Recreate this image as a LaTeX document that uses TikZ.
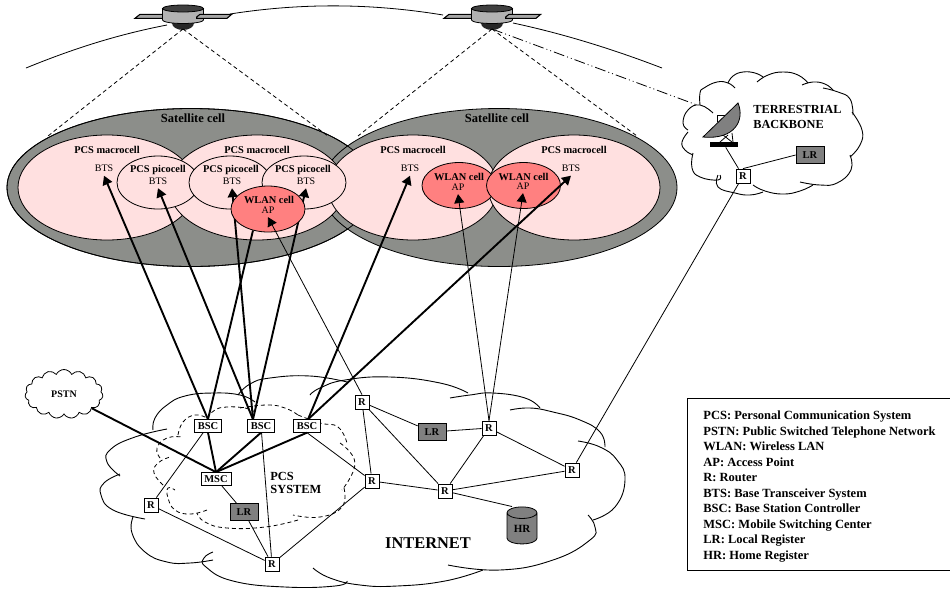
\documentclass[tikz,border=0pt]{standalone}
\usepackage{fontspec}
\setmainfont{Liberation Serif}
\usetikzlibrary{arrows.meta,shapes.geometric,shapes.symbols}
\definecolor{cellgray}{RGB}{140,142,138}
\definecolor{regray}{RGB}{128,128,128}
\definecolor{macropink}{RGB}{255,224,224}
\definecolor{wlanred}{RGB}{255,128,128}
\newcommand{\fs}[1]{\fontsize{#1}{#1}\selectfont}
\def\cloudarc[#1]#2{\draw[#1] plot[smooth,tension=0.8] coordinates {#2};}
\def\satellite(#1,#2)(#3){
	\begin{scope}[shift={(#1,#2)}]
		\draw[line width=1.1,fill=black!35] (-48,1.3) -- (-43,-2.7) -- (-20,-2.7) -- (-20,1.3) -- cycle;
		\fill[black!85] (-11,6) arc (180:0:11 and 7) -- cycle;
		\draw[fill=black!30] (-20.5,-8.5) -- (-20.5,3) arc (180:0:20.5 and 3.5) -- (20.5,-8.5) -- cycle;
		\draw[fill=black!75] (0,-8.5) ellipse (20.5 and 3.5);
		\draw[line width=1.1,fill=black!35] (13.7,0) -- (17,-2.7) -- (48.7,-2.7) -- (44,1.3) -- (13.7,1.3) -- cycle;
		\coordinate (#3) at (0,12);
	\end{scope}
}
\tikzset{
	boxnode/.style={draw, fill=white, inner sep=0, font=\bfseries\fs{10.5}},
	bsnode/.style={boxnode, minimum width=27, minimum height=12.5},
	routernode/.style={boxnode, minimum size=14},
	lrnode/.style={boxnode, fill=regray, minimum width=28, minimum height=17},
	boldtext/.style={font=\bfseries\fs{10.4}, inner sep=0},
	plaintext/.style={font=\fs{10}, inner sep=3.4},
	macrocell/.style={draw, ellipse, fill=macropink, minimum width=172, minimum height=105},
	picocell/.style={draw, ellipse, fill=macropink, minimum width=82, minimum height=53},
	wlancell/.style={draw, ellipse, fill=wlanred, minimum width=74, minimum height=46},
	satcell/.style={draw, ellipse, fill=cellgray, minimum height=158},
	heavyline/.style={line width=1.9},
	heavyarrow/.style={heavyline, -{Triangle[length=9,width=10]}},
	lightarrow/.style={-{Triangle[length=9,width=10]}},
	cloudline/.style={line width=0.9},
	cloudcut/.style={line width=0.8, dash pattern=on 4 off 3}
}
\begin{document}
\begin{tikzpicture}[x=1pt,y=-1pt,line width=0.8]
	\useasboundingbox (0,0) rectangle (950,590);
	%%%%% satellites and orbit %%%%%
	\draw (26,68) .. controls (70,50) and (115,35) .. (167,25);
	\draw (230,14) .. controls (300,3) and (370,3) .. (443,15);
	\draw (513,23) .. controls (560,33) and (610,48) .. (662,68);
	\satellite(183,17)(sata)
	\satellite(492,17)(satb)
	%%%%% cells %%%%%
	\node[satcell, minimum width=368] (satcella) at (191,187.5) {};
	\node[satcell, minimum width=356] (satcellb) at (499,187.5) {};
	\node[satcell, fill=none, minimum width=368] at (191,187.5) {};
	\node[boldtext, font=\bfseries\fs{12.5}] (sattexta) at (193,118) {Satellite cell};
	\node[boldtext, font=\bfseries\fs{12.5}] (sattextb) at (497,118) {Satellite cell};
	\coordinate (beama) at (48,136);
	\coordinate (beamb) at (328,136);
	\coordinate (beamc) at (358,136);
	\coordinate (beamd) at (637,136);
	\draw[dash pattern=on 4 off 3] (sata) -- (beama);
	\draw[dash pattern=on 4 off 3] (sata) -- (beamb);
	\draw[dash pattern=on 4 off 3] (satb) -- (beamc);
	\draw[dash pattern=on 4 off 3] (satb) -- (beamd);
	\node[macrocell, minimum width=178] (macroa) at (107,187.5) {};
	\node[macrocell, minimum width=176] (macrob) at (257,187.5) {};
	\node[macrocell, minimum width=170] (macroc) at (413,187.5) {};
	\node[macrocell] (macrod) at (574,187.5) {};
	\node[picocell] (picoa) at (158,182.5) {};
	\node[picocell] (picob) at (230,182.5) {};
	\node[picocell, minimum width=84] (picoc) at (304,182.5) {};
	\node[boldtext] at (107,150) {PCS macrocell};
	\node[boldtext] at (257,150) {PCS macrocell};
	\node[boldtext] at (413,150) {PCS macrocell};
	\node[boldtext] at (574,150) {PCS macrocell};
	\node[boldtext] at (158,170) {PCS picocell};
	\node[boldtext] at (231,170) {PCS picocell};
	\node[boldtext] at (303,170) {PCS picocell};
	\node[plaintext] (btsa) at (104,168.5) {BTS};
	\node[plaintext] (btsb) at (158,181) {BTS};
	\node[plaintext] (btsc) at (232,181) {BTS};
	\node[plaintext] (btsd) at (306,181) {BTS};
	\node[plaintext] (btse) at (410,168.5) {BTS};
	\node[plaintext] (btsf) at (571,168.5) {BTS};
	%%%%% internet cloud %%%%%
	\cloudarc[cloudline]{(167,429) (135,437) (111,449) (107,462) (120,476)}
	\cloudarc[cloudline]{(120,474) (104,483) (101,495) (113,510) (145,519)}
	\cloudarc[cloudline]{(133,517) (132,533) (145,552) (167,562) (190,563) (213,560)}
	\cloudarc[cloudline]{(213,552) (204,558) (206,567) (233,581) (285,587) (335,586) (347,581)}
	\cloudarc[cloudline]{(313,568) (330,578) (360,585) (397,586) (445,581) (483,570)}
	\cloudarc[cloudline]{(448,565) (500,570) (553,560) (590,540) (595,527) (588,515)}
	\cloudarc[cloudline]{(593,520) (615,507) (625,480) (617,460) (600,447) (578,441)}
	\cloudarc[cloudline]{(605,447) (600,432) (580,420) (553,412) (530,408) (510,410)}
	\cloudarc[cloudline]{(540,408) (525,398) (493,393) (470,395) (450,398)}
	\cloudarc[cloudline]{(468,393) (440,383) (390,377) (345,380) (320,388) (310,395)}
	\cloudarc[cloudline]{(238,395) (250,384) (270,378) (310,376) (347,382)}
	\cloudarc[cloudline]{(255,402) (240,395) (213,393) (185,396) (167,405) (155,418) (153,430)}
	%%%%% pcs cloud %%%%%
	\cloudarc[cloudcut]{(178,435) (183,422) (195,415) (207,418)}
	\cloudarc[cloudcut]{(207,418) (215,410) (227,407) (245,408) (255,412)}
	\cloudarc[cloudcut]{(240,408) (267,405) (285,408) (298,415)}
	\cloudarc[cloudcut]{(298,415) (320,423) (338,427) (347,443)}
	\cloudarc[cloudcut]{(340,443) (355,463) (342,490)}
	\cloudarc[cloudcut]{(344,488) (342,507) (320,517) (293,515)}
	\cloudarc[cloudcut]{(298,520) (265,527) (227,528) (205,522) (197,513)}
	\cloudarc[cloudcut]{(207,510) (190,514) (175,510) (168,498) (168,488) (175,490)}
	\cloudarc[cloudcut]{(163,485) (154,473) (158,463) (170,457)}
	\cloudarc[cloudcut]{(160,458) (157,448) (167,438) (182,437)}
	\node[boldtext, font=\bfseries\fontsize{12.4}{13}\selectfont, align=left, anchor=west] (pcstext) at (270,482.5) {PCS\\SYSTEM};
	\node[boldtext, font=\bfseries\fs{16.4}] (nettext) at (428,543) {INTERNET};
	%%%%% terrestrial cloud %%%%%
	\cloudarc[cloudline]{(713,113) (700,105) (688,110) (683,123) (688,130)}
	\cloudarc[cloudline]{(688,132) (682,142) (685,150) (693,155)}
	\cloudarc[cloudline]{(693,153) (692,168) (700,177) (718,180) (720,175)}
	\cloudarc[cloudline]{(718,175) (718,187) (735,193) (750,195) (763,192)}
	\cloudarc[cloudline]{(753,185) (765,191) (783,194) (800,191) (813,185)}
	\cloudarc[cloudline]{(800,182) (820,185) (837,183) (851,170) (850,155)}
	\cloudarc[cloudline]{(850,157) (860,145) (862,130) (852,112)}
	\cloudarc[cloudline]{(853,115) (850,99) (838,92) (823,88)}
	\cloudarc[cloudline]{(833,90) (825,84) (813,82) (802,85)}
	\cloudarc[cloudline]{(808,83) (798,75) (783,72) (768,75) (757,82)}
	\cloudarc[cloudline]{(763,77) (755,73) (743,72) (733,76) (728,83)}
	\cloudarc[cloudline]{(735,88) (728,83) (717,82) (704,88) (700,93) (700,105)}
	\node[boldtext, font=\bfseries\fontsize{12.3}{15}\selectfont, align=left, anchor=west] (terrtext) at (753,116.5) {TERRESTRIAL\\BACKBONE};
	%%%%% dish %%%%%
	\draw (717,115) -- (725,115);
	\draw (717,115) -- (717,122);
	\draw (732,133) -- (733,142);
	\draw (720,142) -- (728,135);
	\draw (723,135) -- (732,142);
	\node[fill=black, inner sep=0, minimum width=28, minimum height=5] (dishbase) at (724,144.5) {};
	\draw[fill=regray] (738,103) .. controls (745,120) and (735,140) .. (703,137) -- cycle;
	%%%%% pstn and boxes %%%%%
	\node[draw, shape=cloud, cloud puffs=15, cloud puff arc=130, aspect=1.6, fill=white, inner sep=0, minimum width=78, minimum height=49, font=\bfseries\fs{10}] (pstn) at (64,394) {PSTN};
	\node[bsnode] (bsca) at (208,426) {BSC};
	\node[bsnode] (bscb) at (261,426) {BSC};
	\node[bsnode] (bscc) at (307,426) {BSC};
	\node[bsnode, minimum width=30, minimum height=13] (msc) at (216,479) {MSC};
	\node[routernode] (ra) at (151,505) {R};
	\node[routernode] (rb) at (272,564) {R};
	\node[routernode] (rc) at (362,402) {R};
	\node[routernode] (rd) at (372,481) {R};
	\node[routernode] (re) at (445,491) {R};
	\node[routernode] (rf) at (489,428) {R};
	\node[routernode] (rg) at (572,470) {R};
	\node[routernode] (rt) at (743,176) {R};
	\node[lrnode] (lra) at (244,512) {LR};
	\node[lrnode] (lrb) at (432,432) {LR};
	\node[lrnode] (lrc) at (810,155) {LR};
	\node[draw, shape=cylinder, shape border rotate=90, aspect=0.7, fill=regray, inner sep=0, minimum width=30, minimum height=37, font=\bfseries\fs{11}] (hr) at (522,528.5) {HR};
	%%%%% links %%%%%
	\draw[heavyarrow] (bsca.north) -- (btsa.south);
	\draw[heavyarrow] ([xshift=-8]bscb.north) -- (btsb.south);
	\draw[heavyarrow] ([xshift=-8]bscb.north) -- (btsc.south);
	\draw[heavyarrow] ([xshift=-8]bscb.north) -- (btsd.south);
	\node[wlancell] (wlana) at (268,209) {};
	\node[wlancell] (wlanb) at (459,185.5) {};
	\node[wlancell] (wlanc) at (523.5,185.5) {};
	\node[boldtext] at (269,200) {WLAN cell};
	\node[boldtext] at (459,177) {WLAN cell};
	\node[boldtext] at (523.5,176.5) {WLAN cell};
	\node[plaintext] (apa) at (268,210) {AP};
	\node[plaintext] (apb) at (458,187) {AP};
	\node[plaintext] (apc) at (523,186) {AP};
	\draw[heavyline] (bsca.north) -- (wlana.235);
	\draw[heavyarrow] ([xshift=1]bscc.north) -- (btse.south);
	\draw[heavyarrow] ([xshift=1]bscc.north) -- (btsf.south);
	\draw[heavyline] (pstn) -- (msc.north);
	\draw[heavyline] (bsca.south) -- (msc.north);
	\draw[heavyline] (bscb.south) -- (msc.north);
	\draw[heavyline] (bscc.south) -- (msc.north);
	\draw[lightarrow] (rc.north) -- (apa.south);
	\draw[lightarrow] (rf.north) -- (apb.south);
	\draw[lightarrow] (rf.north) -- (apc.south);
	\draw (bsca) -- (ra);
	\draw (ra) -- (rb);
	\draw (msc) -- (lra);
	\draw (lra) -- (rb);
	\draw (bscb) -- (rb);
	\draw (rb) -- (rd);
	\draw (bscc.south) -- (rd);
	\draw (rc) -- (lrb);
	\draw (lrb) -- (rf);
	\draw (rc) -- (rd);
	\draw (rc) -- (re);
	\draw (rd) -- (re);
	\draw (re) -- (rf);
	\draw (rf) -- (rg);
	\draw (re) -- (rg);
	\draw (re) -- ([xshift=-10]hr.north);
	\draw (rg) -- (rt);
	\draw (rt.north) -- (lrc.west);
	\draw (rt) -- (dishbase);
	\coordinate (dishfeed) at (697,105);
	\draw[dash pattern=on 11 off 3 on 1 off 3 on 1 off 3] (satb) -- (dishfeed);
	%%%%% legend %%%%%
	\node[draw, anchor=north west, minimum width=270, minimum height=172] (legend) at (687,398) {};
	\node[anchor=north west, inner sep=0, align=left, font=\bfseries\fontsize{12.5}{15.55}\selectfont] (legendtext) at (703,410.5) {PCS: Personal Communication System\\
		PSTN: Public Switched Telephone Network\\
		WLAN: Wireless LAN\\
		AP: Access Point\\
		R: Router\\
		BTS: Base Transceiver System\\
		BSC: Base Station Controller\\
		MSC: Mobile Switching Center\\
		LR: Local Register\\
		HR: Home Register};
\end{tikzpicture}
\end{document}
